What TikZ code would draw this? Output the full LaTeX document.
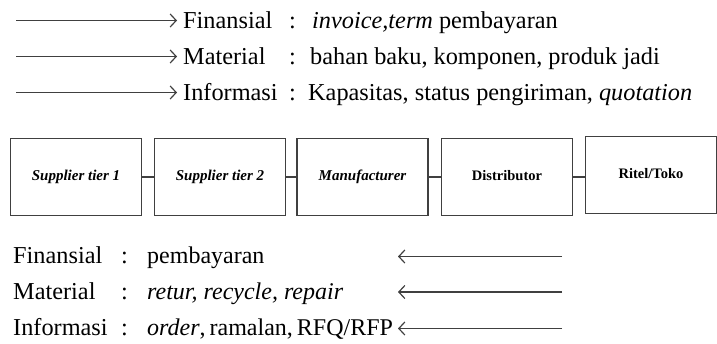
\documentclass[tikz,border=0pt]{standalone}
\usepackage{fontspec}
\setmainfont{Liberation Serif}
\usetikzlibrary{arrows.meta}
\tikzset{
  flow/.style={draw=black!75, line width=1.2pt, -{Straight Barb[length=6pt,width=13pt]}},
  link/.style={draw=black!75, line width=1.1pt},
  chainbox/.style={draw=black!75, line width=1.2pt, minimum width=131pt, minimum height=77pt,
    inner sep=0pt, font=\fontsize{14.5}{16}\selectfont\bfseries},
  chainboxit/.style={chainbox, font=\fontsize{15}{16}\selectfont\bfseries\itshape},
  row/.style={anchor=base west, inner sep=0pt, text height=15pt, text depth=0pt,
    font=\fontsize{24.3}{27}\selectfont},
}

\begin{document}
\begin{tikzpicture}[x=1pt, y=-1pt]
  \useasboundingbox (0,0) rectangle (717,343);

  % aliran ke hilir
  \node[row, inner xsep=6pt] (finA) at (177,28) {Finansial};
  \node[row, inner xsep=6pt] (matA) at (177,64) {Material};
  \node[row, inner xsep=6pt] (infA) at (177,100) {Informasi};
  \node[row] (cfinA) at (289,28) {:};
  \node[row] (cmatA) at (289,64) {:};
  \node[row] (cinfA) at (289,100) {:};
  \node[row] (vfinA) at (312,28) {\textit{invoice,term} pembayaran};
  \node[row] (vmatA) at (310,64) {bahan baku, komponen, produk jadi};
  \node[row] (vinfA) at (308,100) {Kapasitas, status pengiriman, \textit{quotation}};
  \coordinate (sfinA) at (16,20.5);
  \coordinate (smatA) at (16,56.5);
  \coordinate (sinfA) at (16,92.5);
  \draw[flow] (sfinA) -- (finA.west);
  \draw[flow] (smatA) -- (matA.west);
  \draw[flow] (sinfA) -- (infA.west);

  % rantai pasok
  \node[chainboxit] (sup1) at (76,177) {\raisebox{2pt}{Supplier tier 1}};
  \node[chainboxit] (sup2) at (220,177) {\raisebox{2pt}{Supplier tier 2}};
  \node[chainboxit] (manuf) at (362.5,177) {\raisebox{2pt}{Manufacturer}};
  \node[chainbox] (dist) at (507,177) {\raisebox{3pt}{Distributor}};
  \node[chainbox] (ritel) at (651,175) {\raisebox{4pt}{Ritel/Toko}};
  \draw[link] (sup1) -- (sup2);
  \draw[link] (sup2) -- (manuf);
  \draw[link] (manuf) -- (dist);
  \draw[link] (dist.east) -- (dist.east -| ritel.west);

  % aliran ke hulu
  \node[row] (finB) at (13,263) {Finansial};
  \node[row] (matB) at (13,299) {Material};
  \node[row] (infB) at (13,335) {Informasi};
  \node[row] (cfinB) at (121,263) {:};
  \node[row] (cmatB) at (121,299) {:};
  \node[row] (cinfB) at (121,335) {:};
  \node[row, font=\fontsize{24}{27}\selectfont] (vfinB) at (147,263) {pembayaran};
  \node[row, font=\fontsize{24}{27}\selectfont] (vmatB) at (147,299) {\textit{retur, recycle, repair}};
  \node[row, font=\fontsize{24}{27}\selectfont] (vinfB) at (147,335) {\textit{order},\,ramalan,\,RFQ/RFP};
  \coordinate (sfinB) at (562,256.5);
  \coordinate (efinB) at (398,256.5);
  \coordinate (smatB) at (562,292);
  \coordinate (ematB) at (398,292);
  \coordinate (sinfB) at (562,328.5);
  \coordinate (einfB) at (398,328.5);
  \draw[flow] (sfinB) -- (efinB);
  \draw[flow] (smatB) -- (ematB);
  \draw[flow] (sinfB) -- (einfB);
\end{tikzpicture}
\end{document}
